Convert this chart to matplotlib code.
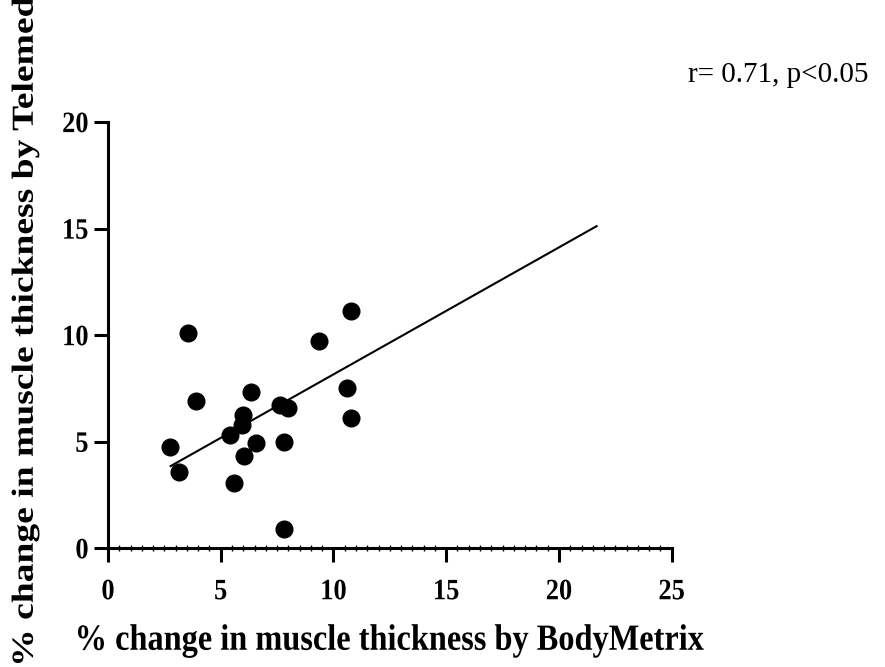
import matplotlib.pyplot as plt
import numpy as np
from matplotlib.patheffects import AbstractPathEffect
from matplotlib.transforms import Affine2D

# % change in muscle thickness
bodymetrix = [3.53, 10.77, 9.37, 3.90, 6.34, 7.62, 7.99, 10.58, 10.77, 6.00,
              5.95, 5.41, 2.75, 6.56, 7.81, 6.04, 3.13, 5.61, 7.80]
telemed = [10.08, 11.14, 9.73, 6.92, 7.34, 6.71, 6.60, 7.53, 6.09, 6.24,
           5.77, 5.31, 4.76, 4.92, 4.99, 4.33, 3.58, 3.04, 0.89]

# regression line as drawn in the original figure
fit_slope = 0.596
fit_intercept = 2.20
fit_x = [2.78, 21.67]

x_ticks = [0, 5, 10, 15, 20, 25]
y_ticks = [0, 5, 10, 15, 20]


class Stretch(AbstractPathEffect):
    # scale glyph outlines around their own centre (the original font is narrow)
    def __init__(self, sx=1.0, sy=1.0):
        super().__init__()
        self.sx, self.sy = sx, sy

    def draw_path(self, renderer, gc, tpath, affine, rgbFace=None):
        ext = tpath.get_extents()
        cx, cy = (ext.x0 + ext.x1) / 2, (ext.y0 + ext.y1) / 2
        t = Affine2D().translate(-cx, -cy).scale(self.sx, self.sy).translate(cx, cy)
        renderer.draw_path(gc, tpath, t + affine, rgbFace)


plt.rcParams['font.family'] = 'Liberation Serif'

fig = plt.figure(figsize=(8.85, 6.67), dpi=100)
ax = fig.add_axes([0.122, 0.178, 0.637, 0.639])

ax.plot(bodymetrix, telemed, 'o', color='black', markersize=12, zorder=3, clip_on=False)

fx = np.array(fit_x)
ax.plot(fx, fit_slope * fx + fit_intercept, color='black', linewidth=1.5)

ax.set_xlim(0, 25)
ax.set_ylim(0, 20)
ax.set_xticks(x_ticks)
ax.set_yticks(y_ticks)
ax.set_xticks(np.arange(0, 25.01, 0.5), minor=True)

for s in ['top', 'right']:
    ax.spines[s].set_visible(False)
for s in ['left', 'bottom']:
    ax.spines[s].set_linewidth(2.2)

ax.tick_params(axis='both', which='major', length=10, width=2.2, direction='out',
               labelsize=19)
ax.tick_params(axis='x', which='major', pad=13)
ax.tick_params(axis='y', which='major', pad=4)
ax.tick_params(axis='x', which='minor', length=4, width=1, direction='inout')
for lbl in ax.get_xticklabels() + ax.get_yticklabels():
    lbl.set_fontweight('bold')
    lbl.set_path_effects([Stretch(1.0, 1.12)])

xl = ax.set_xlabel('% change in muscle thickness by BodyMetrix', fontsize=23.3,
                   fontweight='bold')
xl.set_path_effects([Stretch(1.0, 1.14)])
ax.xaxis.set_label_coords(0.5, -0.184)

yl = ax.set_ylabel('% change in muscle thickness by Telemed', fontsize=22,
                   fontweight='bold')
yl.set_path_effects([Stretch(1.23, 1.0)])
ax.yaxis.set_label_coords(-0.121, 0.509)

fig.text(0.981, 0.888, 'r= 0.71, p<0.05', fontsize=21, ha='right', va='center')

fig.savefig('out.png', dpi=100)
